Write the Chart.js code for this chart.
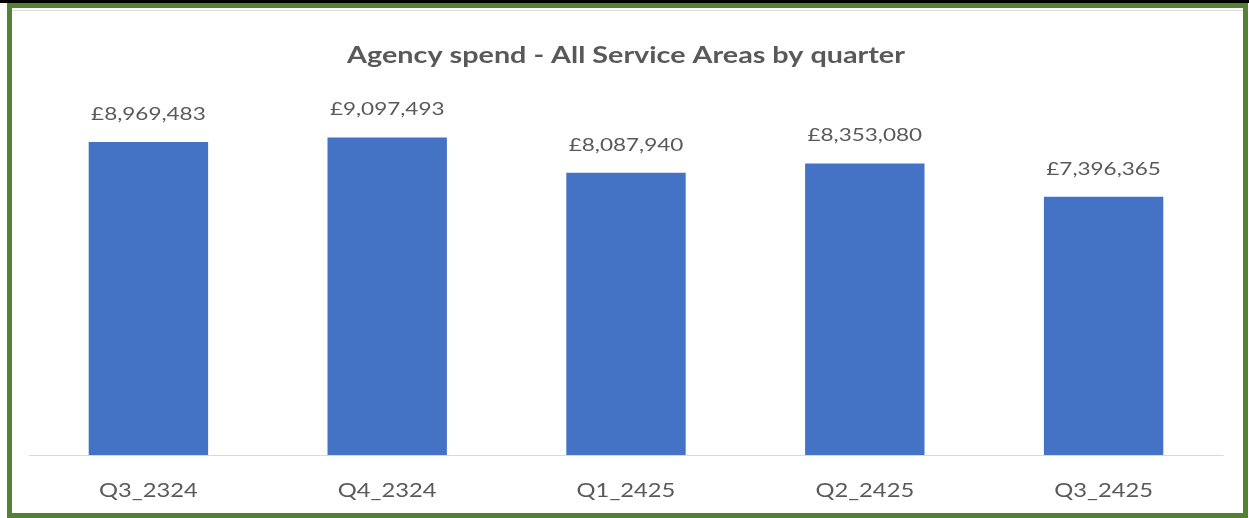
<!DOCTYPE html>
<html>
<head>
<meta charset="utf-8">
<script src="https://cdn.jsdelivr.net/npm/chart.js@4.4.1/dist/chart.umd.min.js"></script>
<style>
  html, body { margin: 0; padding: 0; background: #fff; }
  body { width: 1249px; height: 518px; position: relative; overflow: hidden; }
  #topbar { position: absolute; left: 0; top: 0; width: 1249px; height: 3px; background: #000; }
  #frame { position: absolute; left: 7px; top: 3px; width: 1231px; height: 505px; border: 5px solid #548235; }
  #frame .edge { position: absolute; left: 0; right: 0; top: 2px; height: 1px; background: #dedede; }
  canvas { position: absolute; left: 0; top: 0; }
</style>
</head>
<body>
<div id="topbar"></div>
<div id="frame"><div class="edge"></div></div>
<canvas id="chart" width="1249" height="518" style="width:1249px;height:518px"></canvas>
<script>
const quarters = ['Q3_2324', 'Q4_2324', 'Q1_2425', 'Q2_2425', 'Q3_2425'];
const spend = [8969483, 9097493, 8087940, 8353080, 7396365];
const axisMax = 10000000;

// the whole chart is drawn a bit wider than it is laid out
const STRETCH = 1.25;
const W = 1249;
const plotLeft = 29, plotRight = 1223;
const textColor = '#595959';
const fontFamily = 'Lato, "Open Sans", sans-serif';

const gbp = v => '£' + v.toLocaleString('en-GB');

const widen = {
  id: 'widen',
  beforeDraw(chart) {
    chart.ctx.save();
    chart.ctx.scale(STRETCH, 1);
  },
  afterDraw(chart) {
    chart.ctx.restore();
  }
};

const valueLabels = {
  id: 'valueLabels',
  afterDatasetsDraw(chart) {
    const ctx = chart.ctx;
    const meta = chart.getDatasetMeta(0);
    ctx.save();
    ctx.font = '18px ' + fontFamily;
    ctx.fillStyle = textColor;
    ctx.textAlign = 'center';
    ctx.textBaseline = 'middle';
    meta.data.forEach((bar, i) => {
      ctx.fillText(gbp(spend[i]), bar.x, bar.y - 28);
    });
    ctx.restore();
  }
};

new Chart(document.getElementById('chart'), {
  type: 'bar',
  data: {
    labels: quarters,
    datasets: [{
      label: 'Agency spend',
      data: spend,
      backgroundColor: '#4472c4',
      borderWidth: 0,
      categoryPercentage: 1,
      barPercentage: 0.5
    }]
  },
  options: {
    responsive: false,
    animation: false,
    layout: {
      padding: { left: plotLeft / STRETCH, right: W - plotRight / STRETCH, top: 0, bottom: 0 }
    },
    plugins: {
      legend: { display: false },
      tooltip: { enabled: false },
      title: {
        display: true,
        text: 'Agency spend - All Service Areas by quarter',
        color: textColor,
        font: { family: fontFamily, size: 23, weight: 'bold', lineHeight: 1.2 },
        padding: { top: 42, bottom: 36.4 }
      }
    },
    scales: {
      x: {
        grid: { display: false },
        border: { color: '#d9d9d9', width: 1 },
        ticks: { color: textColor, font: { family: fontFamily, size: 19 }, padding: 16 },
        afterFit(scale) { scale.height = 63; }
      },
      y: { display: false, min: 0, max: axisMax }
    }
  },
  plugins: [widen, valueLabels]
});
</script>
</body>
</html>
